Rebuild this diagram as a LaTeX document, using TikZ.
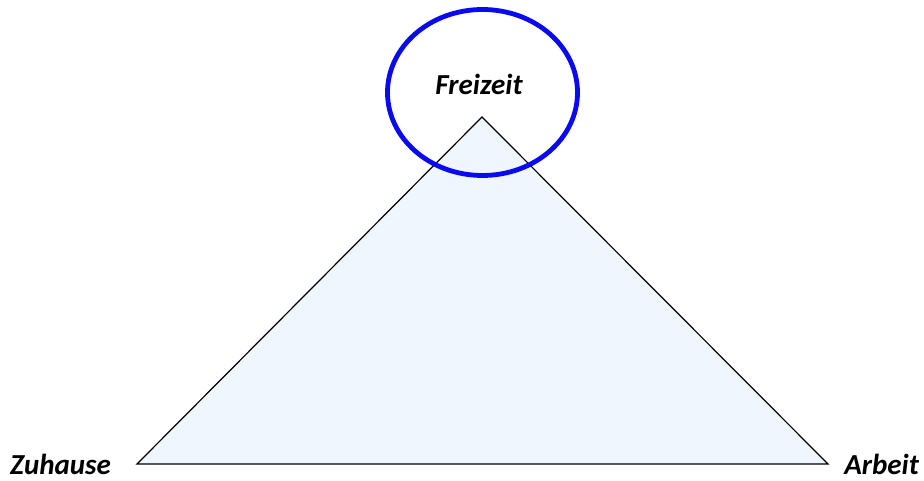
\documentclass[tikz,border=0pt]{standalone}
\usepackage{fontspec}
\usetikzlibrary{shapes.geometric}
\setmainfont{Carlito}
\definecolor{trifill}{RGB}{239,246,253}
\definecolor{ringblue}{RGB}{10,10,240}
\begin{document}
\begin{tikzpicture}[x=1pt,y=1pt,
  lbl/.style={inner sep=0pt,font=\fontsize{29}{32}\selectfont\bfseries\itshape}]
\useasboundingbox (0,0) rectangle (924,481);
\coordinate (top) at (482,364);
\coordinate (bl) at (137,17);
\coordinate (br) at (828,17);
\filldraw[fill=trifill,draw=black,line width=1.2pt,line join=miter] (bl) -- (top) -- (br) -- cycle;
\node[draw=ringblue,line width=4.8pt,ellipse,minimum width=190pt,minimum height=166pt,inner sep=0pt] (ring) at (482.5,388.5) {};
\node[lbl,anchor=base] (frei) at (479,386) {Freizeit};
\node[lbl,anchor=base west] (zu) at (10,6) {Zuhause};
\node[lbl,anchor=base east] (arb) at (919,6) {Arbeit};
\end{tikzpicture}
\end{document}
